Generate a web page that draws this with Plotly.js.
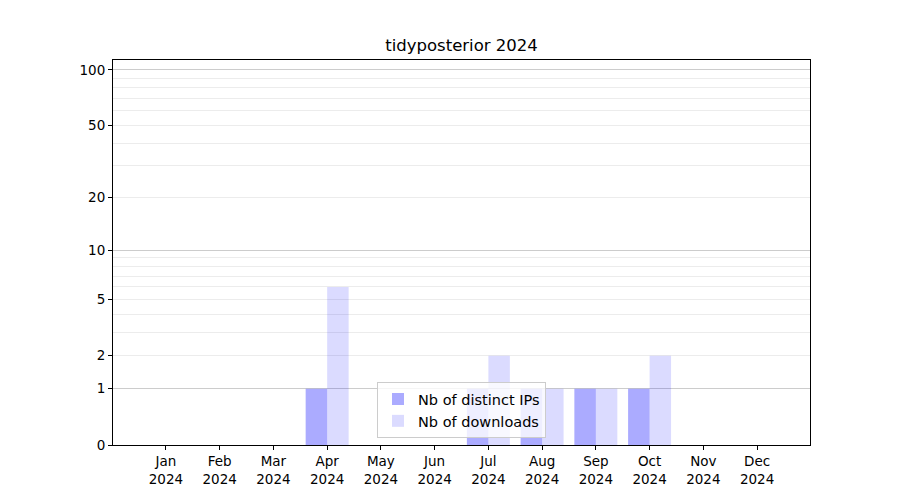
<!DOCTYPE html>
<html><head><meta charset="utf-8">
<script src="https://cdn.plot.ly/plotly-3.0.1.min.js"></script>
<style>body{margin:0;padding:0;background:#fff}#chart{width:900px;height:500px}</style>
</head><body><div id="chart"></div>
<script>
const months = ["Jan","Feb","Mar","Apr","May","Jun","Jul","Aug","Sep","Oct","Nov","Dec"];
const year = "2024";
const distinctIPs = [0,0,0,1,0,0,1,1,1,1,0,0];
const downloads   = [0,0,0,6,0,0,2,1,1,2,0,0];
const yTickValues = [0,1,2,5,10,20,50,100];
const yMajorGrid = [1,10,100];
const yMinorGrid = [2,3,4,5,6,7,8,9,20,30,40,50,60,70,80,90];

// symlog-like transform used by the reference axis: log10(1+y)
const t = v => Math.log10(1 + v);
const xIdx = months.map((m,i)=>i);
const font = {family:"DejaVu Sans", size:13.5, color:"#000"};

const traces = [
  {type:"bar", name:"Nb of distinct IPs", x:xIdx, y:distinctIPs.map(t),
   marker:{color:"rgba(0,0,255,0.33)", line:{width:0}}, hoverinfo:"skip"},
  {type:"bar", name:"Nb of downloads", x:xIdx, y:downloads.map(t),
   marker:{color:"rgba(0,0,255,0.14)", line:{width:0}}, hoverinfo:"skip"},
];

const yTop = 2.0577;
const layout = {
  width:900, height:500,
  margin:{l:113, r:90, t:60, b:55},
  paper_bgcolor:"#fff", plot_bgcolor:"#fff",
  font:font,
  title:{text:"tidyposterior "+year, font:{family:"DejaVu Sans", size:16.5, color:"#000"},
         x:0.5128, xanchor:"center", xref:"container", y:1-45/500, yref:"container", yanchor:"middle"},
  barmode:"group", bargap:0.2, bargroupgap:0,
  xaxis:{range:[-0.985,11.985], tickmode:"array", tickvals:xIdx,
         ticktext:months.map(m=>m+"<br>"+year), ticks:"outside", ticklen:4, tickcolor:"#000",
         showline:true, linecolor:"#000", linewidth:1, mirror:true, showgrid:false, zeroline:false,
         tickfont:font, fixedrange:true},
  yaxis:{range:[0,yTop], tickmode:"array", tickvals:yTickValues.map(t), ticktext:yTickValues.map(String),
         ticks:"outside", ticklen:4, tickcolor:"#000", showline:true, linecolor:"#000", linewidth:1,
         mirror:true, showgrid:false, zeroline:false, tickfont:font,
         minor:{tickmode:"array", tickvals:yMinorGrid.map(t), showgrid:true, gridcolor:"#ececec", gridwidth:1, ticks:""}},
  yaxis2:{range:[0,yTop], overlaying:"y", tickmode:"array", tickvals:yMajorGrid.map(t),
          showticklabels:false, ticks:"", showgrid:true, gridcolor:"#cccccc", gridwidth:1, zeroline:false, showline:false},
  legend:{x:0.5, xanchor:"center", y:0.018, yanchor:"bottom", bgcolor:"rgba(255,255,255,0.8)",
          bordercolor:"#cccccc", borderwidth:1, font:{family:"DejaVu Sans", size:14.5, color:"#000"},
          traceorder:"normal", itemwidth:30},
  showlegend:true
};
// dummy trace for yaxis2 so its grid is drawn
traces.push({type:"scatter", x:[], y:[], yaxis:"y2", showlegend:false, hoverinfo:"skip"});
Plotly.newPlot("chart", traces, layout, {displayModeBar:false, staticPlot:true});
</script></body></html>
